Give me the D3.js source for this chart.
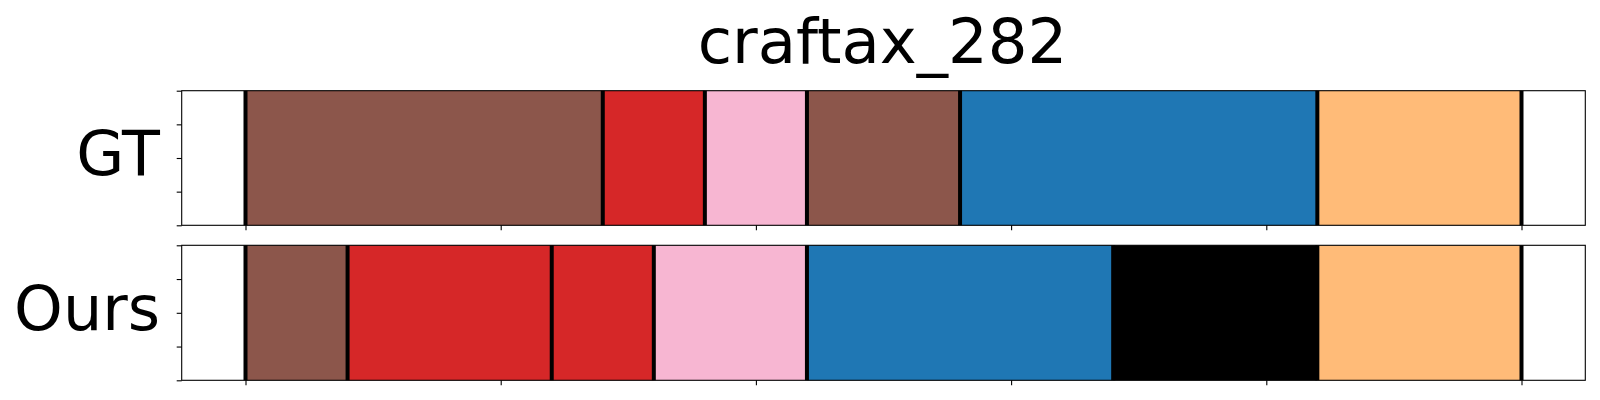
<!DOCTYPE html>
<html>
<head>
<meta charset="utf-8">
<script src="https://cdn.jsdelivr.net/npm/d3@7"></script>
<style>
  html, body { margin: 0; padding: 0; background: #fff; }
  svg { display: block; }
  text { font-family: "DejaVu Sans", sans-serif; fill: #000; }
</style>
</head>
<body>
<svg id="chart" width="1600" height="400"></svg>
<script>
// ---- data ----
const title = "craftax_282";
const rowLabels = ["GT", "Ours"];
// segment boundaries (time steps) for each row
const gtBounds = [0, 140, 180, 220, 280, 420, 500];
const gtColors = ["#8c564b", "#d62728", "#f7b6d2", "#8c564b", "#1f77b4", "#ffbb78"];
const oursBounds = [0, 40, 120, 160, 220, 340, 420, 500];
const oursColors = ["#8c564b", "#d62728", "#d62728", "#f7b6d2", "#1f77b4", "#000000", "#ffbb78"];
const xTicks = [0, 100, 200, 300, 400, 500];
const yTicks = [0, 0.25, 0.5, 0.75, 1];

// ---- layout ----
const svg = d3.select("#chart");
const left = 181.7, right = 1585.3;
const panels = [
  { label: rowLabels[0], bounds: gtBounds, colors: gtColors, top: 90.7, bottom: 225.3, base: 175 },
  { label: rowLabels[1], bounds: oursBounds, colors: oursColors, top: 245.3, bottom: 380.3, base: 330 }
];
const xMin = 0, xMax = 500, pad = (xMax - xMin) * 0.05;
const x = d3.scaleLinear().domain([xMin - pad, xMax + pad]).range([left, right]);

svg.append("text")
  .attr("x", (left + right) / 2 - 1)
  .attr("y", 62.5)
  .attr("text-anchor", "middle")
  .attr("font-size", 62.5)
  .text(title);

panels.forEach(p => {
  const y = d3.scaleLinear().domain([0, 1]).range([p.bottom, p.top]);
  const g = svg.append("g");
  const segs = p.colors.map((c, i) => ({ s: p.bounds[i], e: p.bounds[i + 1], c }));
  g.selectAll("rect.seg").data(segs).join("rect")
    .attr("class", "seg")
    .attr("x", d => x(d.s))
    .attr("width", d => x(d.e) - x(d.s))
    .attr("y", y(1))
    .attr("height", y(0) - y(1))
    .attr("fill", d => d.c);
  g.selectAll("line.bd").data(p.bounds).join("line")
    .attr("class", "bd")
    .attr("x1", d => x(d)).attr("x2", d => x(d))
    .attr("y1", y(1)).attr("y2", y(0))
    .attr("stroke", "#000").attr("stroke-width", 4);

  // axes
  const xa = g.append("g").attr("transform", `translate(0,${p.bottom})`)
    .call(d3.axisBottom(x).tickValues(xTicks).tickSize(5).tickFormat(""));
  const ya = g.append("g").attr("transform", `translate(${left},0)`)
    .call(d3.axisLeft(y).tickValues(yTicks).tickSize(5).tickFormat(""));
  [xa, ya].forEach(a => {
    a.select(".domain").remove();
    a.selectAll(".tick line").attr("stroke", "#000").attr("stroke-width", 1.1);
  });
  g.append("rect")
    .attr("x", left).attr("y", p.top)
    .attr("width", right - left).attr("height", p.bottom - p.top)
    .attr("fill", "none").attr("stroke", "#000").attr("stroke-width", 1.1);

  svg.append("text")
    .attr("x", 160)
    .attr("y", p.base)
    .attr("text-anchor", "end")
    .attr("font-size", 62)
    .text(p.label);
});
</script>
</body>
</html>
